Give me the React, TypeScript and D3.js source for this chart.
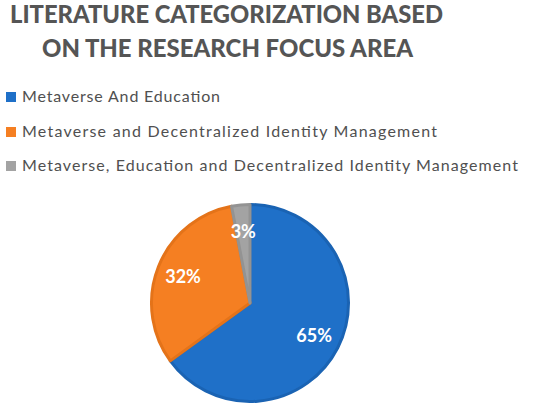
import { useEffect, useRef } from 'react';
import * as d3 from 'd3';

const categories = [
  'Metaverse And Education',
  'Metaverse and Decentralized Identity Management',
  'Metaverse, Education and Decentralized Identity Management',
];
const shares = [65, 32, 3];
const fills = ['#1f70c8', '#f57f22', '#a3a3a3'];
const borders = ['#1a63b3', '#e47319', '#939393'];
const titleLines = ['LITERATURE CATEGORIZATION BASED', 'ON THE RESEARCH FOCUS AREA'];

const App = () => {
  const svgRef = useRef<SVGSVGElement>(null);

  useEffect(() => {
    const svg = d3.select(svgRef.current);
    svg.selectAll('*').remove();

    const width = 550;
    const height = 410;
    svg.attr('width', width).attr('height', height);

    // Title
    const titleX = [10, 42];
    const titleW = [433, 371];
    const titleY = [23, 57];
    titleLines.forEach((line, i) => {
      svg.append('text')
        .attr('x', titleX[i])
        .attr('y', titleY[i])
        .attr('textLength', titleW[i])
        .attr('lengthAdjust', 'spacingAndGlyphs')
        .style('font-family', 'Lato, "Open Sans", sans-serif')
        .style('font-weight', 900)
        .style('font-size', '24px')
        .style('fill', '#555555')
        .text(line);
    });

    // Legend
    const legendY = [102, 137, 171];
    const legendW = [198, 415, 496];
    const legend = svg.append('g');
    categories.forEach((c, i) => {
      legend.append('rect')
        .attr('x', 6)
        .attr('y', legendY[i] - 10)
        .attr('width', 10)
        .attr('height', 10)
        .attr('fill', fills[i]);
      legend.append('text')
        .attr('x', 22)
        .attr('y', legendY[i])
        .attr('textLength', legendW[i])
        .attr('lengthAdjust', 'spacing')
        .style('font-family', 'Lato, "Open Sans", sans-serif')
        .style('font-size', '16px')
        .style('fill', '#505050')
        .text(c);
    });

    // Pie
    const cx = 250;
    const cy = 303;
    const radius = 100;
    const pie = d3.pie<number>().sort(null).value(d => d);
    const arcs = pie(shares);
    const arc = d3.arc<d3.PieArcDatum<number>>().innerRadius(0).outerRadius(radius - 1.5);
    const labelArc = d3.arc<d3.PieArcDatum<number>>().innerRadius(72).outerRadius(72);

    const g = svg.append('g').attr('transform', `translate(${cx},${cy})`);

    g.selectAll('.slice')
      .data(arcs)
      .enter()
      .append('path')
      .attr('class', 'slice')
      .attr('d', arc)
      .attr('fill', (_, i) => fills[i])
      .attr('stroke', (_, i) => borders[i])
      .attr('stroke-width', 3)
      .attr('stroke-linejoin', 'round');

    g.selectAll('.label')
      .data(arcs)
      .enter()
      .append('text')
      .attr('class', 'label')
      .attr('transform', d => {
        const [x, y] = labelArc.centroid(d);
        return `translate(${x},${y})`;
      })
      .attr('text-anchor', 'middle')
      .attr('dy', '0.35em')
      .style('font-family', 'Lato, "Open Sans", sans-serif')
      .style('font-weight', 'bold')
      .style('font-size', '18px')
      .style('fill', '#ffffff')
      .text(d => `${d.data}%`);
  }, []);

  return (
    <svg ref={svgRef} style={{ position: 'absolute', left: 0, top: 0 }}></svg>
  );
};

export default App;
